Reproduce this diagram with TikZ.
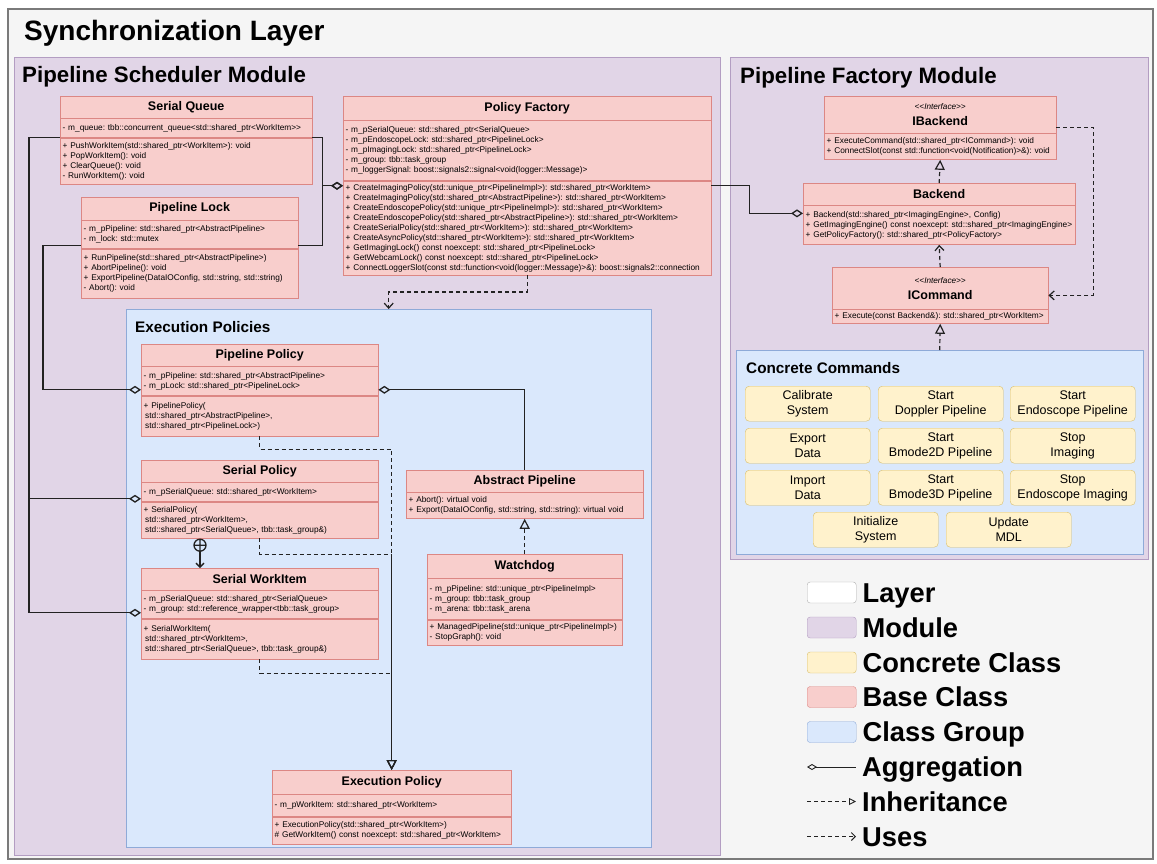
\documentclass[tikz,border=0pt]{standalone}
\usepackage{fontspec}
\setmainfont{Liberation Sans}[Ligatures=TeXOff]
\usepackage{tikz}
\usetikzlibrary{arrows.meta,positioning,calc}
\definecolor{LayerBg}{HTML}{F5F5F5}
\definecolor{LayerLn}{HTML}{7A7A7A}
\definecolor{ModBg}  {HTML}{E1D5E7}
\definecolor{ModLn}  {HTML}{B39DC2}
\definecolor{GrpBg}  {HTML}{DAE8FC}
\definecolor{GrpLn}  {HTML}{8EAAD8}
\definecolor{ConcBg} {HTML}{FFF2CC}
\definecolor{ConcLn} {HTML}{D9BE6A}
\definecolor{BaseBg} {HTML}{F8CECC}
\definecolor{BaseLn} {HTML}{DC8784}
\definecolor{WireC}  {HTML}{222222}
\tikzset{
  layerbox/.style={draw=LayerLn,fill=LayerBg,line width=1.5pt,anchor=north west,inner sep=0pt},
  modbox/.style={draw=ModLn,fill=ModBg,anchor=north west,inner sep=0pt},
  grpbox/.style={draw=GrpLn,fill=GrpBg,anchor=north west,inner sep=0pt},
  boxtitle/.style={anchor=base west,inner sep=0pt,font=\fontsize{22.3}{26}\selectfont\bfseries},
  grptitle/.style={anchor=base west,inner sep=0pt,font=\fontsize{15.3}{18}\selectfont\bfseries},
  clshead/.style={draw=BaseLn,fill=BaseBg,anchor=north west,inner sep=0pt,align=center,
                  font=\fontsize{12.5}{15}\selectfont\bfseries},
  clsbody/.style={draw=BaseLn,fill=BaseBg,anchor=north,inner xsep=2.5pt,inner ysep=0pt,align=left,
                  font=\fontsize{8.3}{10}\selectfont},
  cmdbox/.style={draw=ConcLn,fill=ConcBg,rounded corners=4pt,anchor=north west,minimum width=125,
                 minimum height=35,inner sep=0pt,align=center,font=\fontsize{12.5}{15}\selectfont},
  legbox/.style={rounded corners=3pt,anchor=west,minimum width=49,minimum height=21,inner sep=0pt},
  legtxt/.style={anchor=west,inner xsep=6pt,inner ysep=0pt,text height=19pt,text depth=0pt,
                 font=\fontsize{27.3}{30}\selectfont\bfseries},
  aggr/.style={{Diamond[open,length=12pt,width=8pt]}-,draw=WireC,line width=1.3pt},
  inh/.style={-{Triangle[open,length=10pt,width=10pt]},draw=WireC,dashed,dash pattern=on 4pt off 3pt,line width=1.2pt},
  uses/.style={-{Straight Barb[length=5pt,width=9pt]},draw=WireC,dashed,dash pattern=on 4pt off 3pt,line width=1.2pt},
  nestarr/.style={-{Straight Barb[length=4pt,width=8pt]},draw=WireC,line width=1.3pt}
}
\newcommand{\stereo}{{\mdseries\itshape\fontsize{8.2}{9}\selectfont <<Interface>>}}

\begin{document}
\frenchspacing
\begin{tikzpicture}[x=1pt,y=-1pt]
  \useasboundingbox (0,0) rectangle (1157,863);
  \fill[white] (0,0) rectangle (1157,863);
  % layer, modules and groups
  \node[layerbox,minimum width=1145,minimum height=850] (layer) at (7,8) {};
  \node[boxtitle,font=\fontsize{28}{32}\selectfont\bfseries] (layer-t) at (24,40) {Synchronization Layer};
  \node[modbox,minimum width=706,minimum height=798] (sched) at (14,57) {};
  \node[boxtitle] (sched-t) at (22,82) {Pipeline Scheduler Module};
  \node[modbox,minimum width=418,minimum height=502] (fact) at (730,57) {};
  \node[boxtitle] (fact-t) at (740,83) {Pipeline Factory Module};
  \node[grpbox,minimum width=525,minimum height=538] (expol) at (126,309) {};
  \node[grptitle] (expol-t) at (135,332) {Execution Policies};
  \node[grpbox,minimum width=407,minimum height=204] (cmds) at (736,350) {};
  \node[grptitle] (cmds-t) at (746,373) {Concrete Commands};

  % Serial Queue
  \node[clshead,minimum width=252,minimum height=22] (sq) at (60,96) {Serial Queue};
  \node[clsbody,text width=247,minimum height=19,below=0pt of sq] (sq-a)
    {- m\_queue: tbb::concurrent\_queue<std::shared\_ptr<WorkItem>>};
  \node[clsbody,text width=247,minimum height=46,below=0pt of sq-a] (sq-m)
    {+ PushWorkItem(std::shared\_ptr<WorkItem>): void\\+ PopWorkItem(): void\\
     + ClearQueue(): void\\- RunWorkItem(): void};
  % Pipeline Lock
  \node[clshead,minimum width=217,minimum height=23] (pl) at (81,197) {Pipeline Lock};
  \node[clsbody,text width=212,minimum height=28,below=0pt of pl] (pl-a)
    {- m\_pPipeline: std::shared\_ptr<AbstractPipeline>\\- m\_lock: std::mutex};
  \node[clsbody,text width=212,minimum height=49,below=0pt of pl-a] (pl-m)
    {+ RunPipeline(std::shared\_ptr<AbstractPipeline>)\\+ AbortPipeline(): void\\
     + ExportPipeline(DataIOConfig, std::string, std::string)\\- Abort(): void};
  % Policy Factory
  \node[clshead,minimum width=368,minimum height=24] (pf) at (343,96) {Policy Factory};
  \node[clsbody,text width=363,minimum height=60,below=0pt of pf] (pf-a)
    {- m\_pSerialQueue: std::shared\_ptr<SerialQueue>\\
     - m\_pEndoscopeLock: std::shared\_ptr<PipelineLock>\\
     - m\_pImagingLock: std::shared\_ptr<PipelineLock>\\
     - m\_group: tbb::task\_group\\
     - m\_loggerSignal: boost::signals2::signal<void(logger::Message)>};
  \node[clsbody,text width=363,minimum height=94,below=0pt of pf-a] (pf-m)
    {+ CreateImagingPolicy(std::unique\_ptr<PipelineImpl>): std::shared\_ptr<WorkItem>\\
     + CreateImagingPolicy(std::shared\_ptr<AbstractPipeline>): std::shared\_ptr<WorkItem>\\
     + CreateEndoscopePolicy(std::unique\_ptr<PipelineImpl>): std::shared\_ptr<WorkItem>\\
     + CreateEndoscopePolicy(std::shared\_ptr<AbstractPipeline>): std::shared\_ptr<WorkItem>\\
     + CreateSerialPolicy(std::shared\_ptr<WorkItem>): std::shared\_ptr<WorkItem>\\
     + CreateAsyncPolicy(std::shared\_ptr<WorkItem>): std::shared\_ptr<WorkItem>\\
     + GetImagingLock() const noexcept: std::shared\_ptr<PipelineLock>\\
     + GetWebcamLock() const noexcept: std::shared\_ptr<PipelineLock>\\
     + ConnectLoggerSlot(const std::function<void(logger::Message)>\&): boost::signals2::connection};

  % Pipeline Policy
  \node[clshead,minimum width=237,minimum height=22] (pp) at (141,344) {Pipeline Policy};
  \node[clsbody,text width=232,minimum height=29,below=0pt of pp] (pp-a)
    {- m\_pPipeline: std::shared\_ptr<AbstractPipeline>\\- m\_pLock: std::shared\_ptr<PipelineLock>};
  \node[clsbody,text width=232,minimum height=40,below=0pt of pp-a] (pp-m)
    {+ PipelinePolicy(\\\hspace*{1.5pt}std::shared\_ptr<AbstractPipeline>,\\
     \hspace*{1.5pt}std::shared\_ptr<PipelineLock>)};
  % Serial Policy
  \node[clshead,minimum width=237,minimum height=22] (sp) at (141,460) {Serial Policy};
  \node[clsbody,text width=232,minimum height=19,below=0pt of sp] (sp-a)
    {- m\_pSerialQueue: std::shared\_ptr<WorkItem>};
  \node[clsbody,text width=232,minimum height=36,below=0pt of sp-a] (sp-m)
    {+ SerialPolicy(\\\hspace*{1.5pt}std::shared\_ptr<WorkItem>,\\
     \hspace*{1.5pt}std::shared\_ptr<SerialQueue>, tbb::task\_group\&)};
  % Serial WorkItem
  \node[clshead,minimum width=237,minimum height=22] (sw) at (141,568) {Serial WorkItem};
  \node[clsbody,text width=232,minimum height=28,below=0pt of sw] (sw-a)
    {- m\_pSerialQueue: std::shared\_ptr<SerialQueue>\\
     - m\_group: std::reference\_wrapper<tbb::task\_group>};
  \node[clsbody,text width=232,minimum height=40,below=0pt of sw-a] (sw-m)
    {+ SerialWorkItem(\\\hspace*{1.5pt}std::shared\_ptr<WorkItem>,\\
     \hspace*{1.5pt}std::shared\_ptr<SerialQueue>, tbb::task\_group\&)};
  % Abstract Pipeline
  \node[clshead,minimum width=237,minimum height=22] (ap) at (406,470) {Abstract Pipeline};
  \node[clsbody,text width=232,minimum height=26,below=0pt of ap] (ap-m)
    {+ Abort(): virtual void\\+ Export(DataIOConfig, std::string, std::string): virtual void};
  % Watchdog
  \node[clshead,minimum width=195,minimum height=24] (wd) at (427,554) {Watchdog};
  \node[clsbody,text width=190,minimum height=41,below=0pt of wd] (wd-a)
    {- m\_pPipeline: std::unique\_ptr<PipelineImpl>\\- m\_group: tbb::task\_group\\
     - m\_arena: tbb::task\_arena};
  \node[clsbody,text width=190,minimum height=25,below=0pt of wd-a] (wd-m)
    {+ ManagedPipeline(std::unique\_ptr<PipelineImpl>)\\- StopGraph(): void};
  % Execution Policy
  \node[clshead,minimum width=239,minimum height=24] (ep) at (272,770) {Execution Policy};
  \node[clsbody,text width=234,minimum height=22,below=0pt of ep] (ep-a)
    {- m\_pWorkItem: std::shared\_ptr<WorkItem>};
  \node[clsbody,text width=234,minimum height=27,below=0pt of ep-a] (ep-m)
    {+ ExecutionPolicy(std::shared\_ptr<WorkItem>)\\
     \# GetWorkItem() const noexcept: std::shared\_ptr<WorkItem>};

  % IBackend
  \node[clshead,minimum width=232,minimum height=37] (ib) at (824,96) {\stereo\\[1pt]IBackend};
  \node[clsbody,text width=227,minimum height=26,below=0pt of ib] (ib-m)
    {+ ExecuteCommand(std::shared\_ptr<ICommand>): void\\
     + ConnectSlot(const std::function<void(Notification)>\&): void};
  % Backend
  \node[clshead,minimum width=272,minimum height=22] (be) at (803,183) {Backend};
  \node[clsbody,text width=267,minimum height=39,below=0pt of be] (be-m)
    {+ Backend(std::shared\_ptr<ImagingEngine>, Config)\\
     + GetImagingEngine() const noexcept: std::shared\_ptr<ImagingEngine>\\
     + GetPolicyFactory(): std::shared\_ptr<PolicyFactory>};
  % ICommand
  \node[clshead,minimum width=216,minimum height=42] (ic) at (832,267) {\stereo\\[1pt]ICommand};
  \node[clsbody,text width=211,minimum height=14,below=0pt of ic] (ic-m)
    {+ Execute(const Backend\&): std::shared\_ptr<WorkItem>};

  % concrete commands
  \node[cmdbox] (c-cal)  at (745,386)  {Calibrate\\System};
  \node[cmdbox] (c-dop)  at (878,386)  {Start\\Doppler Pipeline};
  \node[cmdbox] (c-endo) at (1010,386) {Start\\Endoscope Pipeline};
  \node[cmdbox] (c-exp)  at (745,428)  {Export\\Data};
  \node[cmdbox] (c-b2d)  at (878,428)  {Start\\Bmode2D Pipeline};
  \node[cmdbox] (c-stop) at (1010,428) {Stop\\Imaging};
  \node[cmdbox] (c-imp)  at (745,470)  {Import\\Data};
  \node[cmdbox] (c-b3d)  at (878,470)  {Start\\Bmode3D Pipeline};
  \node[cmdbox] (c-stpe) at (1010,470) {Stop\\Endoscope Imaging};
  \node[cmdbox] (c-init) at (813,512)  {Initialize\\System};
  \node[cmdbox] (c-mdl)  at (946,512)  {Update\\MDL};

  % aggregations in the scheduler module
  \draw[aggr] ($(pf-m.north west)+(0,5)$) -| ($(sq-a.south east)+(10,0)$) -- (sq-a.south east);
  \draw[aggr] ($(pf-m.north west)+(0,5)$) -| ($(pl-a.south east)+(24,-3)$) -- ($(pl-a.south east)+(0,-3)$);
  \draw[aggr] ($(pp-a.south west)+(0,-6)$) -| ($(pl-a.south west)+(-38,-3)$) -- ($(pl-a.south west)+(0,-3)$);
  \draw[aggr] ($(sp-a.south west)+(0,-3)$) -| ($(sq-a.south west)+(-31,0)$) -- (sq-a.south west);
  \draw[aggr] ($(sw-a.south west)+(0,-6)$) -| ($(sq-a.south west)+(-31,0)$) -- (sq-a.south west);
  \draw[aggr] ($(pp-a.south east)+(0,-6)$) -| (ap.north);
  % inheritance
  \draw[inh] (wd.north) -- (ap-m.south);
  \draw[inh] (pp-m.south) -- ++(0,13) -| (ep.north);
  \draw[inh] (sp-m.south) -- ++(0,16) -| (ep.north);
  \draw[inh] (sw-m.south) -- ++(0,14) -| (ep.north);
  % nested work item
  \coordinate (nest) at ($(sp-m.south west)+(59,7)$);
  \draw[draw=WireC,line width=1.3pt] (nest) circle (6) ($(nest)+(-6,0)$) -- ($(nest)+(6,0)$)
    ($(nest)+(0,-6)$) -- ($(nest)+(0,6)$);
  \draw[nestarr] ($(nest)+(0,6)$) -- (nest |- sw.north);
  % factory uses the policies
  \draw[uses] (pf-m.south) |- ($(expol.north)+(0,-17)$) -- (expol.north);

  % factory module links
  \draw[aggr] ($(be-m.north west)+(0,8)$) -| ($(pf-m.north east)+(38,5)$) -- ($(pf-m.north east)+(0,5)$);
  \draw[inh] (be.north) -- (ib-m.south);
  \draw[uses] (ic.north) -- (be-m.south);
  \draw[uses] ($(ib.south east)+(0,-6)$) -- ++(37,0) |- ($(ic.south east)+(0,-14)$);
  \draw[inh] (cmds.north) -- (ic-m.south);

  % legend
  \node[legbox,draw=LayerLn!60,fill=white] (lg-layer) at (807,592.5) {};
  \node[legtxt,right=0pt of lg-layer] (lt-layer) {Layer};
  \node[legbox,draw=ModLn,fill=ModBg] (lg-mod) at (807,627.5) {};
  \node[legtxt,right=0pt of lg-mod] (lt-mod) {Module};
  \node[legbox,draw=ConcLn,fill=ConcBg] (lg-conc) at (807,662.5) {};
  \node[legtxt,right=0pt of lg-conc] (lt-conc) {Concrete Class};
  \node[legbox,draw=BaseLn,fill=BaseBg] (lg-base) at (807,697) {};
  \node[legtxt,right=0pt of lg-base] (lt-base) {Base Class};
  \node[legbox,draw=GrpLn,fill=GrpBg] (lg-grp) at (807,732) {};
  \node[legtxt,right=0pt of lg-grp] (lt-grp) {Class Group};
  \coordinate (lg-agg) at (807,767);
  \node[legtxt] (lt-agg) at (856,767) {Aggregation};
  \draw[aggr,line width=0.9pt,{Diamond[open,length=10pt,width=6pt]}-] (lg-agg) -- (lt-agg.west);
  \coordinate (lg-inh) at (807,801.5);
  \node[legtxt] (lt-inh) at (856,801.5) {Inheritance};
  \draw[inh,line width=0.9pt,-{Triangle[open,length=7pt,width=7pt]}] (lg-inh) -- (lt-inh.west);
  \coordinate (lg-use) at (807,836.5);
  \node[legtxt] (lt-use) at (856,836.5) {Uses};
  \draw[uses,line width=0.9pt,-{Straight Barb[length=4pt,width=8pt]}] (lg-use) -- (lt-use.west);
\end{tikzpicture}
\end{document}
